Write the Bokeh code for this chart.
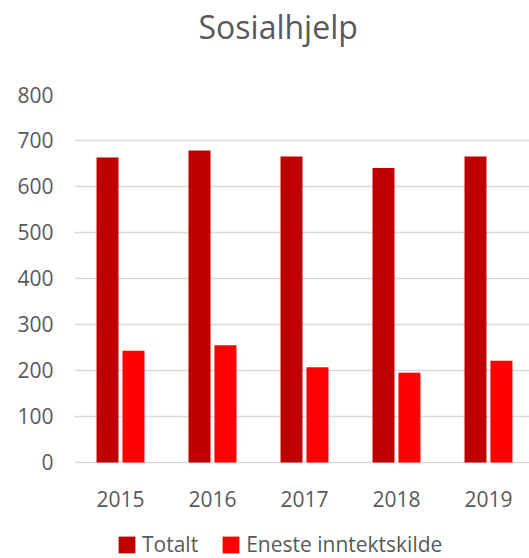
from bokeh.plotting import figure
from bokeh.models import (ColumnDataSource, Range1d, FixedTicker, Legend, LegendItem, Title)
from bokeh.core.properties import value
from bokeh.transform import dodge
from bokeh.embed import file_html
from bokeh.resources import INLINE

years = ["2015", "2016", "2017", "2018", "2019"]
totalt = [663, 678, 665, 640, 665]
eneste = [243, 255, 207, 195, 221]
y_ticks = [0, 100, 200, 300, 400, 500, 600, 700, 800]

xpos = [i + 0.5 for i in range(len(years))]
src = ColumnDataSource(dict(x=xpos, year=years, totalt=totalt, eneste=eneste,
                            ylab=[-61.5] * len(years)))

FONT = "Open Sans"
GREY = "#595959"

# frame runs from the 800 line down to the bottom of the canvas;
# 0 sits 96 px above the bottom edge (0.46 px per unit)
p = figure(width=529, height=558, output_backend="svg", toolbar_location=None,
           x_range=Range1d(0, 4.946), y_range=Range1d(-208.7, 800),
           min_border_left=74, min_border_right=0, min_border_top=94,
           min_border_bottom=0, frame_height=464, frame_width=455)
p.outline_line_color = None

r1 = p.vbar(x=dodge("x", -0.141, range=p.x_range), top="totalt", width=0.239,
            source=src, fill_color="#C00000", line_color=None)
r2 = p.vbar(x=dodge("x", 0.141, range=p.x_range), top="eneste", width=0.239,
            source=src, fill_color="#FF0000", line_color=None)

# category labels under the zero line
p.text(x="x", y="ylab", text="year", source=src, text_font=value(FONT),
       text_font_size="21px", text_color=GREY, text_align="center",
       text_baseline="top")

p.title.text = "Sosialhjelp"
p.title.text_font = FONT
p.title.text_font_size = "32px"
p.title.text_font_style = "normal"
p.title.text_color = GREY
p.title.align = "left"
p.title.offset = 124
p.title.standoff = 0
p.add_layout(Title(text=" ", text_font_size="1px", standoff=44), "above")

p.xaxis.visible = False

p.yaxis.ticker = FixedTicker(ticks=y_ticks)
p.yaxis.major_tick_line_color = None
p.yaxis.minor_tick_line_color = None
p.yaxis.major_tick_out = 0
p.yaxis.axis_line_color = None
p.yaxis.major_label_text_font = FONT
p.yaxis.major_label_text_font_size = "21px"
p.yaxis.major_label_text_color = GREY
p.yaxis.major_label_standoff = 21

p.xgrid.grid_line_color = None
p.ygrid.ticker = FixedTicker(ticks=y_ticks)
p.ygrid.grid_line_color = "#D9D9D9"
p.ygrid.grid_line_width = 1.5

legend = Legend(items=[LegendItem(label="Totalt", renderers=[r1]),
                       LegendItem(label="Eneste inntektskilde", renderers=[r2])],
                orientation="horizontal", location=(42, 0),
                label_text_font=FONT, label_text_font_size="21px",
                label_text_color=GREY, glyph_width=21, glyph_height=21,
                label_standoff=5, spacing=22, padding=0, margin=0,
                border_line_color=None, background_fill_alpha=0)
p.add_layout(legend, "center")

open("out.html", "w").write(file_html(p, INLINE))
